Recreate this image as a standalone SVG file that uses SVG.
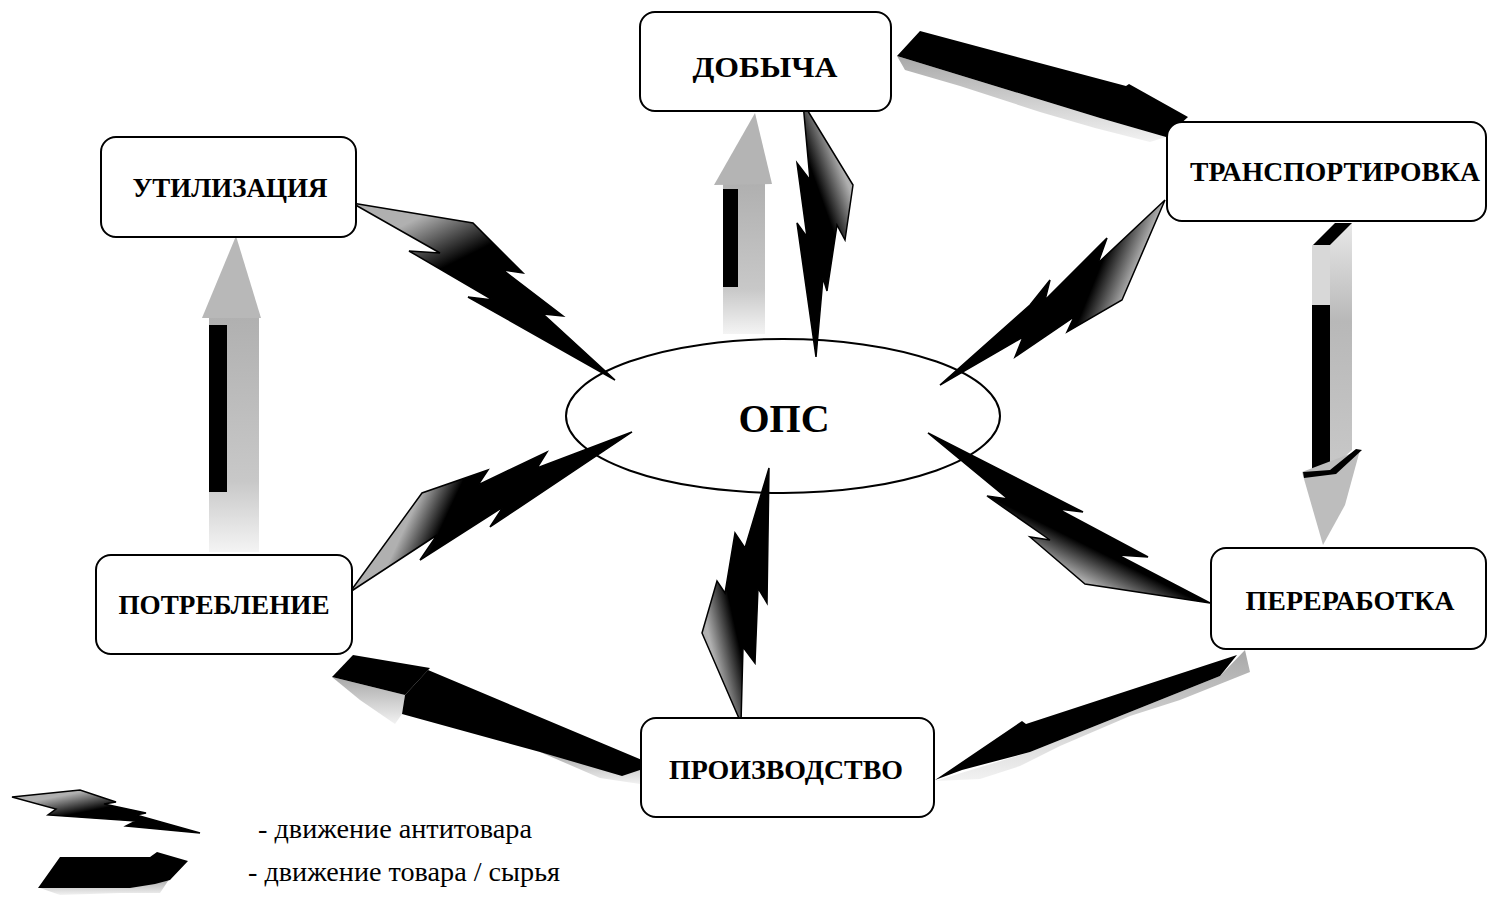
<svg xmlns="http://www.w3.org/2000/svg" width="1488" height="897" viewBox="0 0 1488 897">
<style>
.box{fill:#fff;stroke:#000;stroke-width:2}
.lbl{font-family:"Liberation Serif","Times New Roman",serif;font-weight:bold;font-size:27px;text-anchor:middle;fill:#000}
.leg{font-family:"Liberation Serif","Times New Roman",serif;font-size:27px;fill:#000}
.bolt{stroke:#000;stroke-width:1.5;stroke-linejoin:miter}
.blk{fill:#000}
</style>
<defs>
<linearGradient id="shade" x1="0" y1="0" x2="0" y2="1"><stop offset="0" stop-color="#a8a8a8"/><stop offset="1" stop-color="#f2f2f2"/></linearGradient>
<linearGradient id="colU" x1="0" y1="0" x2="0" y2="1"><stop offset="0" stop-color="#b0b0b0"/><stop offset="0.7" stop-color="#c8c8c8"/><stop offset="1" stop-color="#f4f4f4"/></linearGradient>
<linearGradient id="colD" x1="0" y1="0" x2="0" y2="1"><stop offset="0" stop-color="#e8e8e8"/><stop offset="0.4" stop-color="#b8b8b8"/><stop offset="1" stop-color="#c8c8c8"/></linearGradient>
<linearGradient id="g1" gradientUnits="userSpaceOnUse" x1="430" y1="212" x2="455" y2="262"><stop offset="0" stop-color="#b0b0b0"/><stop offset="1" stop-color="#000"/></linearGradient>
<linearGradient id="g2" gradientUnits="userSpaceOnUse" x1="850" y1="190" x2="822" y2="200"><stop offset="0" stop-color="#b0b0b0"/><stop offset="1" stop-color="#000"/></linearGradient>
<linearGradient id="g3" gradientUnits="userSpaceOnUse" x1="1130" y1="285" x2="1098" y2="272"><stop offset="0" stop-color="#b0b0b0"/><stop offset="1" stop-color="#000"/></linearGradient>
<linearGradient id="g4" gradientUnits="userSpaceOnUse" x1="1085" y1="582" x2="1100" y2="552"><stop offset="0" stop-color="#b0b0b0"/><stop offset="1" stop-color="#000"/></linearGradient>
<linearGradient id="g5" gradientUnits="userSpaceOnUse" x1="412" y1="512" x2="442" y2="526"><stop offset="0" stop-color="#b0b0b0"/><stop offset="1" stop-color="#000"/></linearGradient>
<linearGradient id="g6" gradientUnits="userSpaceOnUse" x1="708" y1="632" x2="735" y2="626"><stop offset="0" stop-color="#b0b0b0"/><stop offset="1" stop-color="#000"/></linearGradient>
<linearGradient id="gL" gradientUnits="userSpaceOnUse" x1="80" y1="792" x2="84" y2="812"><stop offset="0" stop-color="#b0b0b0"/><stop offset="1" stop-color="#000"/></linearGradient>
</defs>
<rect width="1488" height="897" fill="#fff"/>

<g id="connectors">
  <!-- lightning bolts (движение антитовара) -->
  <polygon class="bolt" fill="url(#g1)" points="352,203 473,223 523,273 503,270 563,316 543,314 615,380 468,297 493,300 409,251 440,253"/>
  <polygon class="bolt" fill="url(#g2)" points="803,103 853,185 845,240 837,225 827,291 823,278 816,357 797,223 807,237 797,163 810,180"/>
  <polygon class="bolt" fill="url(#g3)" points="1165,200 1122,300 1067,332 1074,317 1015,357 1023,337 940,385 1030,305 1050,280 1045,300 1107,238 1098,263"/>
  <polygon class="bolt" fill="url(#g4)" points="928,433 1083,512 1058,509 1148,557 1118,555 1210,603 1085,584 1030,537 1050,540 987,496 1008,499"/>
  <polygon class="bolt" fill="url(#g5)" points="350,592 422,493 488,470 478,485 547,452 537,468 632,432 490,527 503,507 420,560 437,535"/>
  <polygon class="bolt" fill="url(#g6)" points="769,468 767,603 758,588 755,663 743,647 741,723 702,633 717,581 725,593 735,533 745,548"/>

  <!-- ОПС -> ДОБЫЧА (up arrow) -->
  <rect x="723" y="184" width="42" height="150" fill="url(#colU)"/>
  <polygon points="714,185 755,113 772,184" fill="#b4b4b4"/>
  <rect x="723" y="189" width="15" height="98" class="blk"/>

  <!-- ДОБЫЧА -> ТРАНСПОРТИРОВКА -->
  <polygon points="897,56 1100,118 1166,137 1150,142 1095,128 1040,112 960,86 905,70" fill="url(#shade)"/>
  <polygon class="blk" points="920,31 1126,86 1129,84 1188,117 1166,137 1100,118 897,56"/>

  <!-- ТРАНСПОРТИРОВКА -> ПЕРЕРАБОТКА -->
  <polygon points="1330,245 1352,223 1352,450 1330,470" fill="url(#colD)"/>
  <rect x="1312" y="245" width="18" height="68" fill="#d8d8d8"/>
  <rect x="1312" y="305" width="18" height="167" class="blk"/>
  <polygon class="blk" points="1313,245 1330,245 1352,223 1335,223"/>
  <polygon points="1302,472 1360,450 1345,505 1323,545" fill="#bdbdbd"/>
  <polygon class="blk" points="1303,472 1330,470 1356,449 1362,450 1336,474 1304,478"/>

  <!-- ПЕРЕРАБОТКА -> ПРОИЗВОДСТВО -->
  <polygon points="1245,650 1250,672 1180,700 1130,716 1060,746 1020,766 980,779 935,781 1030,752 1220,676" fill="url(#shade)"/>
  <polygon class="blk" points="1237,655 1026,724 1022,721 935,780 962,770 1030,752 1220,676"/>

  <!-- ПРОИЗВОДСТВО -> ПОТРЕБЛЕНИЕ -->
  <polygon points="332,677 405,695 402,714 395,724 360,700" fill="url(#shade)"/>
  <polygon points="540,752 642,762 640,784 600,778" fill="url(#shade)"/>
  <polygon class="blk" points="353,655 430,668 405,695 332,677"/>
  <polygon class="blk" points="428,670 642,760 640,770 622,776 540,752 402,714 405,695"/>

  <!-- ПОТРЕБЛЕНИЕ -> УТИЛИЗАЦИЯ (up arrow) -->
  <rect x="209" y="316" width="50" height="236" fill="url(#colU)"/>
  <polygon points="202,318 236,236 261,318" fill="#b8b8b8"/>
  <rect x="209" y="325" width="18" height="167" class="blk"/>
</g>

<g id="node-ops">
  <ellipse cx="783" cy="416" rx="217" ry="77" fill="none" stroke="#000" stroke-width="2"/>
  <text x="784" y="432" class="lbl" style="font-size:40px">ОПС</text>
</g>
<g id="node-dobycha">
  <rect class="box" x="640" y="12" width="251" height="99" rx="15"/>
  <text class="lbl" x="765" y="77" style="font-size:29px" textLength="145" lengthAdjust="spacingAndGlyphs">ДОБЫЧА</text>
</g>
<g id="node-utilizaciya">
  <rect class="box" x="101" y="137" width="255" height="100" rx="15"/>
  <text class="lbl" x="230" y="197" textLength="195" lengthAdjust="spacingAndGlyphs">УТИЛИЗАЦИЯ</text>
</g>
<g id="node-transportirovka">
  <rect class="box" x="1167" y="122" width="319" height="99" rx="15"/>
  <text class="lbl" x="1335" y="181" textLength="290" lengthAdjust="spacingAndGlyphs">ТРАНСПОРТИРОВКА</text>
</g>
<g id="node-potreblenie">
  <rect class="box" x="96" y="555" width="256" height="99" rx="15"/>
  <text class="lbl" x="224" y="614" textLength="211" lengthAdjust="spacingAndGlyphs">ПОТРЕБЛЕНИЕ</text>
</g>
<g id="node-pererabotka">
  <rect class="box" x="1211" y="548" width="275" height="101" rx="15"/>
  <text class="lbl" x="1350" y="610" textLength="209" lengthAdjust="spacingAndGlyphs">ПЕРЕРАБОТКА</text>
</g>
<g id="node-proizvodstvo">
  <rect class="box" x="641" y="718" width="293" height="99" rx="15"/>
  <text class="lbl" x="786" y="779" textLength="234" lengthAdjust="spacingAndGlyphs">ПРОИЗВОДСТВО</text>
</g>

<g id="legend">
  <polygon class="bolt" fill="url(#gL)" points="12,797 80,790 116,802 104,804 146,813 136,815 200,833 126,826 136,821 48,815 56,809"/>
  <polygon points="40,888 150,880 170,878 160,893 120,893 60,895" fill="url(#shade)"/>
  <polygon class="blk" points="38,888 60,857 150,857 157,852 188,861 170,880 155,884 130,888"/>
  <text class="leg" x="258" y="838" textLength="274" lengthAdjust="spacingAndGlyphs">- движение антитовара</text>
  <text class="leg" x="248" y="881" textLength="312" lengthAdjust="spacingAndGlyphs">- движение товара / сырья</text>
</g>
</svg>
